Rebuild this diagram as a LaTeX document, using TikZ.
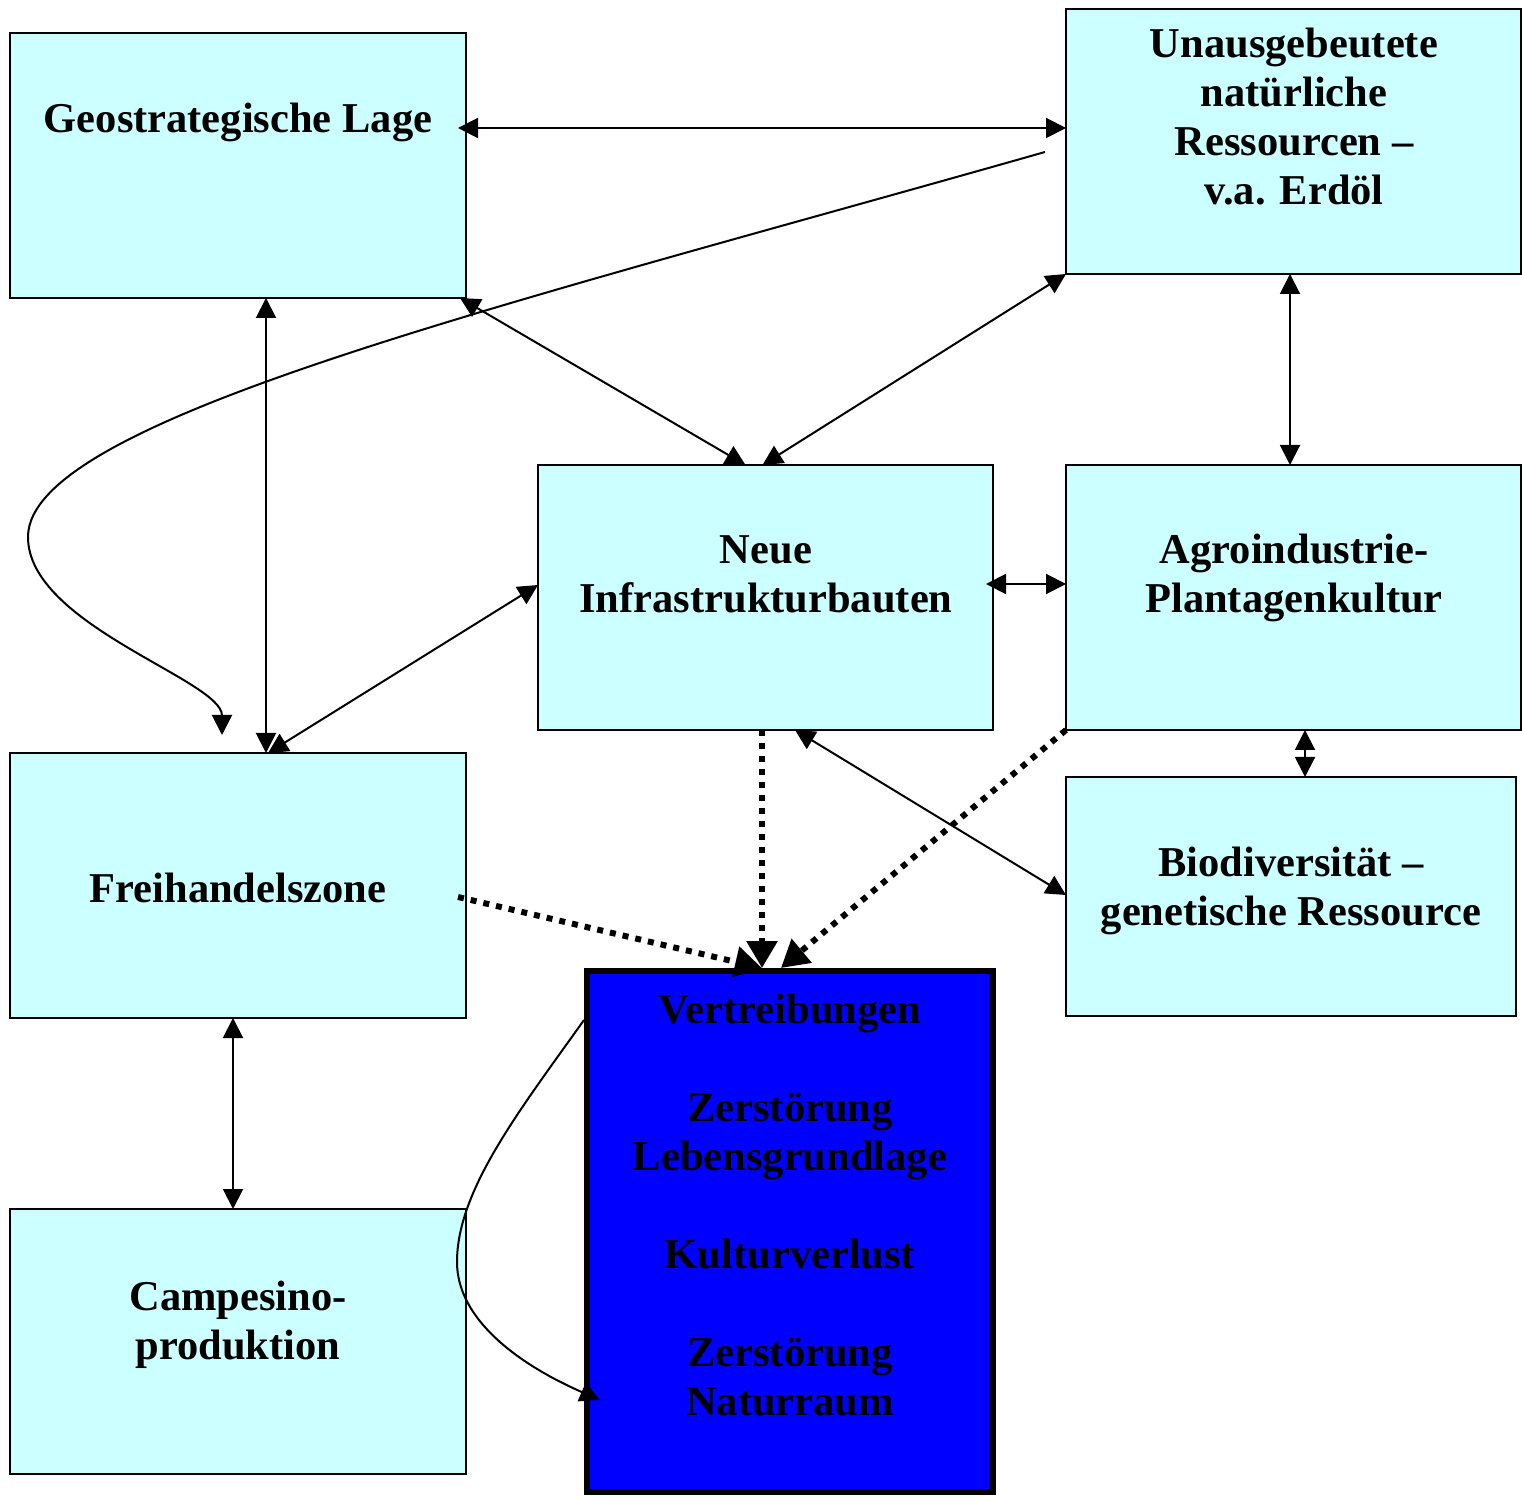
\documentclass[tikz,border=0pt]{standalone}
\usepackage{fontspec}
\setmainfont{Liberation Serif}
\usetikzlibrary{arrows.meta,calc}
\definecolor{boxcyan}{HTML}{CCFFFF}
\definecolor{boxblue}{HTML}{0000FF}
\begin{document}
\begin{tikzpicture}[x=0.5pt,y=-0.5pt,
  box/.style={draw=black,line width=1pt,fill=boxcyan,inner sep=0pt,outer sep=0pt},
  bluebox/.style={draw=black,line width=3pt,fill=boxblue,inner sep=0pt,outer sep=0pt},
  lbl/.style={anchor=base,align=center,inner sep=0pt,
    font=\fontsize{21.25pt}{24.5pt}\selectfont\bfseries},
  link/.style={line width=1pt,{Triangle[length=10pt,width=10pt]}-{Triangle[length=10pt,width=10pt]}},
  onelink/.style={line width=1pt,-{Triangle[length=10pt,width=10pt]}},
  dotlink/.style={line width=3pt,dash pattern=on 3pt off 3.5pt,-{Triangle[length=13.5pt,width=15pt]}}]
\useasboundingbox (0,0) rectangle (1522,1497);

% boxes
\node[box,minimum width=228pt,minimum height=132.5pt] (geo) at (238,165.5) {};
\node[box,minimum width=227.5pt,minimum height=132.5pt] (unaus) at (1293.5,141.5) {};
\node[box,minimum width=227.5pt,minimum height=132.5pt] (neue) at (765.5,597.5) {};
\node[box,minimum width=227.5pt,minimum height=132.5pt] (agro) at (1293.5,597.5) {};
\node[box,minimum width=228pt,minimum height=132.5pt] (frei) at (238,885.5) {};
\node[box,minimum width=225pt,minimum height=119.5pt] (bio) at (1291,896.5) {};
\node[box,minimum width=228pt,minimum height=132.5pt] (camp) at (238,1341.5) {};
\node[bluebox,minimum width=203pt,minimum height=260.5pt] (blue) at (790,1231.5) {};

% texts (anchor=base is the baseline of the last line)
\node[lbl] (geoT) at (238,133) {Geostrategische Lage};
\node[lbl] (unausT) at (1294,205) {Unausgebeutete\\natürliche\\Ressourcen –\\v.a. Erdöl};
\node[lbl] (neueT) at (766,613) {Neue\\Infrastrukturbauten};
\node[lbl] (agroT) at (1294,613) {Agroindustrie-\\Plantagenkultur};
\node[lbl] (freiT) at (238,902) {Freihandelszone};
\node[lbl] (bioT) at (1291,925) {Biodiversität –\\genetische Ressource};
\node[lbl] (campT) at (238,1359) {Campesino-\\produktion};
\node[lbl] (blueT) at (790,1415) {Vertreibungen\\[24.5pt]Zerstörung\\Lebensgrundlage\\[24.5pt]Kulturverlust\\[24.5pt]Zerstörung\\Naturraum};

% double-headed connectors
\draw[link] ($(geo.north east)+(-8,95)$) -- ($(unaus.north west)+(0,119)$);
\draw[link] ($(geo.south)+(28,0)$) -- ($(frei.north)+(28,0)$);
\draw[link] ($(geo.south east)+(-6,0)$) -- ($(neue.north)+(-20,0)$);
\draw[link] (unaus.south west) -- ($(neue.north)+(-3,0)$);
\draw[link] ($(unaus.south)+(-3.5,0)$) -- ($(agro.north)+(-3.5,0)$);
\draw[link] ($(neue.west)+(0,-12.5)$) -- ($(frei.north)+(30,0)$);
\draw[link] ($(neue.east)+(-7,-13.5)$) -- ($(agro.west)+(0,-13.5)$);
\draw[link] ($(agro.south)+(11.5,0)$) -- ($(bio.north)+(14,0)$);
\draw[link] ($(neue.south)+(29.5,0)$) -- ($(bio.west)+(0,-1.5)$);
\draw[link] ($(frei.south)+(-5,0)$) -- ($(camp.north)+(-5,0)$);

% dotted connectors
\draw[dotlink] ($(frei.east)+(-8,11.5)$) -- ($(blue.north)+(-28,-3)$);
\draw[dotlink] ($(neue.south)+(-3.5,0)$) -- ($(blue.north)+(-28,-3)$);
\draw[dotlink] (agro.south west) -- ($(blue.north)+(-9,-3)$);

% curved connectors
\coordinate (c1s) at (1045,152);
\coordinate (c1e) at (222,735);
\draw[onelink] (c1s) .. controls (500,307) and (28,420) .. (28,537)
  .. controls (28,625) and (222,680) .. (c1e);
\coordinate (c2s) at (584,1020);
\coordinate (c2e) at (600,1400);
\draw[onelink] (c2s) .. controls (520,1110) and (457,1190) .. (457,1262)
  .. controls (457,1320) and (520,1365) .. (c2e);
\end{tikzpicture}
\end{document}
